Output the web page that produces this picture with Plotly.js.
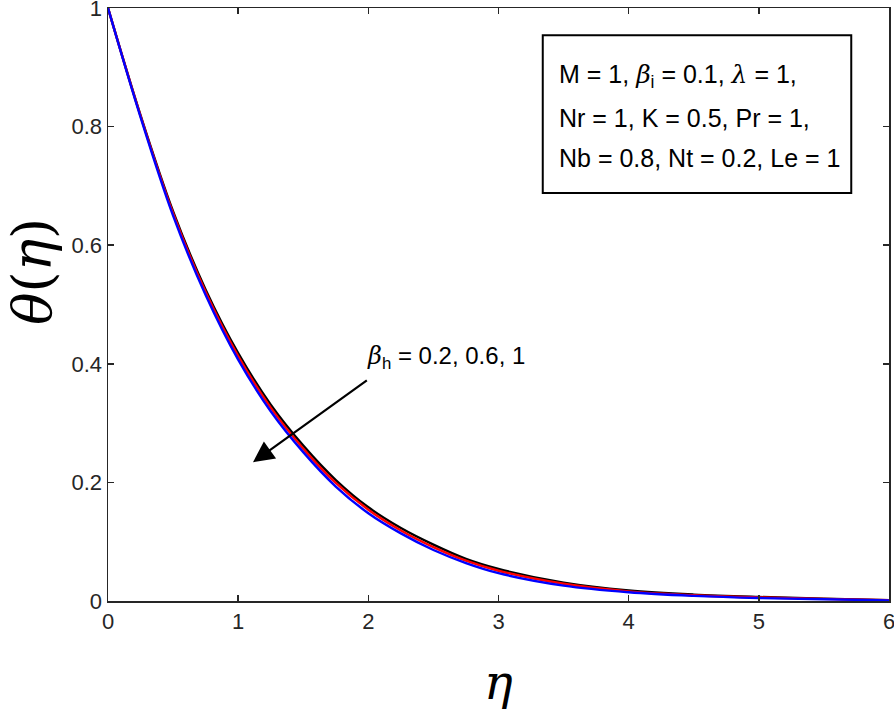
<!DOCTYPE html>
<html>
<head>
<meta charset="utf-8">
<script src="https://cdn.plot.ly/plotly-3.0.1.min.js"></script>
<style>body{margin:0;padding:0;background:#fff}#chart{width:894px;height:710px}</style>
</head>
<body>
<div id="chart"></div>
<script>
// eta values
var eta = [0, 0.25, 0.5, 0.75, 1, 1.25, 1.5, 1.75, 2, 2.25, 2.5, 2.75, 3, 3.5, 4, 4.5, 5, 5.5, 6];
// theta(eta) for beta_h = 0.2 (black), 0.6 (red), 1 (blue)
var thetaB02 = [1, 0.819, 0.657, 0.525, 0.418, 0.331, 0.262, 0.204, 0.158, 0.123, 0.095, 0.071, 0.054, 0.031, 0.0178, 0.0108, 0.0068, 0.0040, 0.0015];
var thetaB06 = [1, 0.818, 0.654, 0.521, 0.413, 0.326, 0.257, 0.199, 0.154, 0.119, 0.091, 0.068, 0.051, 0.029, 0.0163, 0.0097, 0.0060, 0.0035, 0.0013];
var thetaB10 = [1, 0.816, 0.650, 0.516, 0.407, 0.320, 0.251, 0.193, 0.148, 0.114, 0.086, 0.064, 0.047, 0.026, 0.0147, 0.0086, 0.0050, 0.0030, 0.0010];
var seriesNames = ['β_h = 0.2', 'β_h = 0.6', 'β_h = 1'];
var seriesColors = ['#000000', '#ff0000', '#0000ff'];
var xTicks = [0, 1, 2, 3, 4, 5, 6];
var yTicks = [0, 0.2, 0.4, 0.6, 0.8, 1];
var yTickText = ['0', '0.2', '0.4', '0.6', '0.8', '1'];

var ys = [thetaB02, thetaB06, thetaB10];
var traces = ys.map(function (y, i) {
  return {
    x: eta, y: y, type: 'scatter', mode: 'lines', name: seriesNames[i],
    line: {color: seriesColors[i], width: 2.4, shape: 'spline', smoothing: 1},
    hoverinfo: 'skip'
  };
});

var tickFont = {family: 'Liberation Sans, Arial, sans-serif', size: 22, color: '#262626'};
var annFont = {family: 'Liberation Sans, Arial, sans-serif', size: 25, color: '#000'};
var lblFont = {family: 'Liberation Sans, Arial, sans-serif', size: 24, color: '#000'};
var titleFont = {family: 'DejaVu Serif, serif', size: 54, color: '#000'};

var layout = {
  width: 894, height: 710,
  margin: {l: 108, r: 5, t: 8, b: 109},
  paper_bgcolor: '#fff', plot_bgcolor: '#fff',
  showlegend: false,
  xaxis: {
    range: [0, 6], tickvals: xTicks, ticktext: xTicks.map(String),
    ticks: 'inside', ticklen: 6, tickwidth: 1.5, tickcolor: '#262626',
    showline: true, linecolor: '#262626', linewidth: 1.5, mirror: 'ticks',
    showgrid: false, zeroline: false, tickfont: tickFont, ticklabeloverflow: 'allow'
  },
  yaxis: {
    range: [0, 1], tickvals: yTicks, ticktext: yTickText,
    ticks: 'inside', ticklen: 6, tickwidth: 1.5, tickcolor: '#262626',
    showline: true, linecolor: '#262626', linewidth: 1.5, mirror: 'ticks',
    showgrid: false, zeroline: false, tickfont: tickFont, ticklabeloverflow: 'allow'
  },
  shapes: [{
    type: 'rect', xref: 'x', yref: 'y', x0: 3.34, x1: 5.71, y0: 0.688, y1: 0.954,
    line: {color: '#000', width: 2}, fillcolor: '#fff', layer: 'above'
  }],
  annotations: [
    {xref: 'x', yref: 'y', x: 3.45, y: 0.885, xanchor: 'left', yanchor: 'middle', showarrow: false,
     text: 'M = 1, <i><span style="font-family:DejaVu Serif">β</span></i><sub>i</sub> = 0.1, <i><span style="font-family:DejaVu Serif">λ</span></i> = 1,', font: annFont},
    {xref: 'x', yref: 'y', x: 3.45, y: 0.815, xanchor: 'left', yanchor: 'middle', showarrow: false,
     text: 'Nr = 1, K = 0.5, Pr = 1,', font: annFont},
    {xref: 'x', yref: 'y', x: 3.45, y: 0.747, xanchor: 'left', yanchor: 'middle', showarrow: false,
     text: 'Nb = 0.8, Nt = 0.2, Le = 1', font: annFont},
    {xref: 'x', yref: 'y', x: 1.975, y: 0.41, xanchor: 'left', yanchor: 'middle', showarrow: false,
     text: '<i><span style="font-family:DejaVu Serif">β</span></i><sub>h</sub> = 0.2, 0.6, 1', font: lblFont},
    {xref: 'x', yref: 'y', axref: 'x', ayref: 'y', x: 1.114, y: 0.234, ax: 2.0, ay: 0.374,
     showarrow: true, arrowhead: 2, arrowsize: 1.9, arrowwidth: 2.2, arrowcolor: '#000', text: ''},
    {xref: 'paper', yref: 'paper', x: -0.096, y: 0.555, xanchor: 'center', yanchor: 'middle',
     showarrow: false, textangle: -90, text: '<i>θ</i>(<i>η</i>)', font: titleFont},
    {xref: 'paper', yref: 'paper', x: 0.5, y: -0.137, xanchor: 'center', yanchor: 'middle',
     showarrow: false, text: '<i>η</i>', font: {family: 'DejaVu Serif, serif', size: 48, color: '#000'}}
  ]
};

Plotly.newPlot('chart', traces, layout, {displayModeBar: false, staticPlot: true});
</script>
</body>
</html>
